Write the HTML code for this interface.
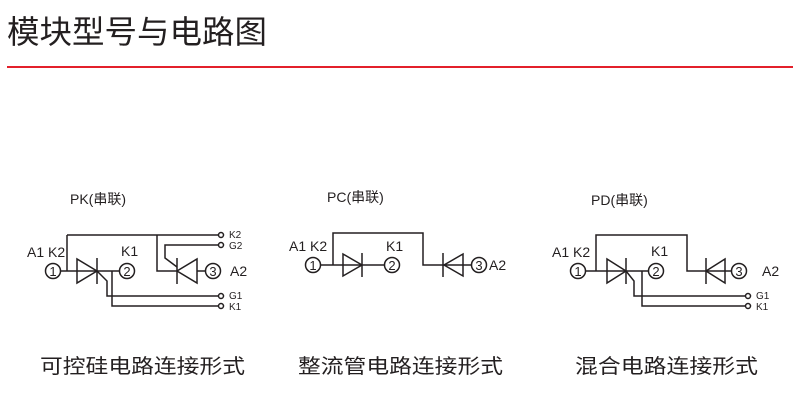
<!DOCTYPE html>
<html><head><meta charset="utf-8"><style>
html,body{margin:0;padding:0;background:#fff;}
svg{display:block}
text{font-family:"Liberation Sans","Noto Sans CJK SC",sans-serif;fill:#231f20}
</style></head><body>
<svg width="800" height="416" viewBox="0 0 800 416" xmlns="http://www.w3.org/2000/svg">
<text x="7" y="43" font-size="32" textLength="260" lengthAdjust="spacingAndGlyphs">模块型号与电路图</text>
<rect x="7" y="66" width="786" height="2" fill="#e3202b"/>
<g stroke="#231f20" stroke-width="1.5" fill="none">
<!-- PK -->
<line x1="60" y1="271" x2="120" y2="271"/>
<line x1="67" y1="235" x2="67" y2="271"/>
<line x1="67" y1="235" x2="218" y2="235"/>
<polygon points="77,259 77,283 97,271"/>
<line x1="97" y1="258" x2="97" y2="284"/>
<polyline points="97,271 107,281 107,296 218,296"/>
<polyline points="112,271 112,306 218,306"/>
<polyline points="157,235 157,271 177,271"/>
<polygon points="197,259 197,283 177,271"/>
<line x1="177" y1="258" x2="177" y2="284"/>
<line x1="197" y1="271" x2="206" y2="271"/>
<polyline points="218,245 165,245 165,258 177,267"/>
<circle cx="53" cy="271" r="7.5"/><circle cx="127" cy="271" r="7.5"/><circle cx="213" cy="271" r="7.5"/>
<circle cx="221" cy="235" r="2.5"/><circle cx="221" cy="245" r="2.5"/>
<circle cx="221" cy="296" r="2.5"/><circle cx="221" cy="306" r="2.5"/>
<!-- PC -->
<line x1="321" y1="265" x2="385" y2="265"/>
<polyline points="333,265 333,233 423,233 423,265 471,265"/>
<polygon points="343,254 343,276 362,265"/>
<line x1="362" y1="253" x2="362" y2="277"/>
<polygon points="463,254 463,276 444,265"/>
<line x1="443" y1="253" x2="443" y2="277"/>
<circle cx="313" cy="265" r="7.5"/><circle cx="392" cy="265" r="7.5"/><circle cx="479" cy="265" r="7.5"/>
<!-- PD -->
<line x1="586" y1="271" x2="648" y2="271"/>
<polyline points="596,271 596,235 687,235 687,271 731,271"/>
<polygon points="607,259 607,283 626,271"/>
<line x1="626" y1="258" x2="626" y2="284"/>
<polyline points="626,271 634,281 634,296 745,296"/>
<polyline points="642,271 642,306 745,306"/>
<polygon points="725,259 725,283 706,271"/>
<line x1="706" y1="258" x2="706" y2="284"/>
<circle cx="578" cy="271" r="7.5"/><circle cx="656" cy="271" r="7.5"/><circle cx="739" cy="271" r="7.5"/>
<circle cx="748" cy="296" r="2.5"/><circle cx="748" cy="306" r="2.5"/>
</g>
<g font-size="14">
<text x="70" y="204">PK(串联)</text>
<text x="327" y="202">PC(串联)</text>
<text x="591" y="205">PD(串联)</text>
<text x="27" y="257">A1 K2</text><text x="121" y="256">K1</text><text x="230" y="276">A2</text>
<text x="289" y="251">A1 K2</text><text x="386" y="251">K1</text><text x="489" y="270">A2</text>
<text x="552" y="257">A1 K2</text><text x="651" y="256">K1</text><text x="762" y="276">A2</text>
</g>
<g font-size="13" text-anchor="middle">
<text x="53" y="276">1</text><text x="127" y="276">2</text><text x="213" y="276">3</text>
<text x="313" y="270">1</text><text x="392" y="270">2</text><text x="479" y="270">3</text>
<text x="578" y="276">1</text><text x="656" y="276">2</text><text x="739" y="276">3</text>
</g>
<g font-size="10">
<text x="229" y="238">K2</text><text x="229" y="249">G2</text>
<text x="229" y="299">G1</text><text x="229" y="310">K1</text>
<text x="756" y="299">G1</text><text x="756" y="310">K1</text>
</g>
<g font-size="20">
<text x="40" y="373" textLength="205" lengthAdjust="spacingAndGlyphs">可控硅电路连接形式</text>
<text x="298" y="373" textLength="205" lengthAdjust="spacingAndGlyphs">整流管电路连接形式</text>
<text x="575" y="373" textLength="183" lengthAdjust="spacingAndGlyphs">混合电路连接形式</text>
</g>
</svg>
</body></html>
